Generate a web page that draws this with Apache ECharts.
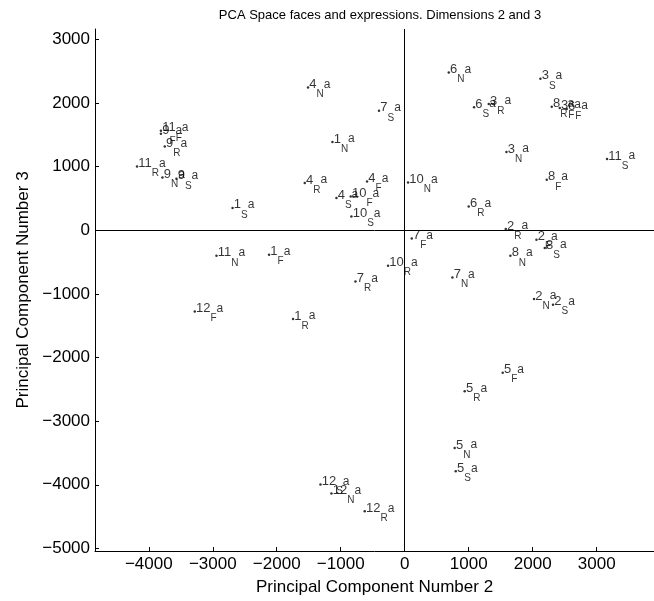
<!DOCTYPE html>
<html>
<head>
<meta charset="utf-8">
<script src="https://cdn.jsdelivr.net/npm/echarts@6/dist/echarts.min.js"></script>
<style>
  html, body { margin: 0; padding: 0; background: #fff; }
  #main { width: 654px; height: 601px; }
</style>
</head>
<body>
<div id="main"></div>
<script>
// subject number, expression subscript, PC2, PC3
var subjects = [1, 1, 1, 1, 2, 2, 2, 2, 3, 3, 3, 3, 4, 4, 4, 4, 5, 5, 5, 5, 6, 6, 6, 6,
    7, 7, 7, 7, 8, 8, 8, 8, 9, 9, 9, 9, 10, 10, 10, 10, 11, 11, 11, 11, 12, 12, 12, 12];
var expressions = ['N', 'S', 'F', 'R', 'N', 'S', 'F', 'R', 'N', 'S', 'F', 'R', 'N', 'S', 'F', 'R',
    'N', 'S', 'F', 'R', 'N', 'S', 'F', 'R', 'N', 'S', 'F', 'R', 'N', 'S', 'F', 'R',
    'N', 'S', 'F', 'R', 'N', 'S', 'F', 'R', 'N', 'S', 'F', 'R', 'N', 'S', 'F', 'R'];
var pc2 = [-1130, -2690, -2120, -1745, 2020, 2317, 2058, 1578, 1589, 2120, 2422, 1313,
    -1511, -1067, -589, -1562, 781, 797, 1531, 937, 688, 1083, 2531, 1000,
    745, -402, 110, -770, 1651, 2188, 2219, 2297, -3786, -3567, -3810, -3750,
    52, -833, -844, -261, -2942, 3162, -3810, -4183, -1145, -1317, -3281, -625];
var pc3 = [1383, 350, -386, -1396, -1082, -1171, -150, 17, 1226, 2377, 1920, 1980,
    2240, 504, 765, 739, -3421, -3788, -2239, -2532, 2476, 1932, 1904, 370,
    -742, 1874, -130, -805, -402, -281, 791, 1938, 827, 807, 1513, 1314,
    749, 215, 529, -559, -402, 1116, 1560, 1000, -4138, -3997, -1276, -4416];

var xTicks = [-4000, -3000, -2000, -1000, 0, 1000, 2000, 3000];
var yTicks = [-5000, -4000, -3000, -2000, -1000, 0, 1000, 2000, 3000];

var myChart = echarts.init(document.getElementById('main'));

var points = [];
for (var i = 0; i < pc2.length; i++) {
    points.push([pc2[i], pc3[i], subjects[i], expressions[i]]);
}

var font = '"Liberation Sans", Arial, Helvetica, sans-serif';

function tickText(v) {
    return v < 0 ? '\u2212' + Math.abs(v) : String(v);
}

var option = {
    backgroundColor: '#fff',
    animation: false,
    title: {
        text: 'PCA Space faces and expressions. Dimensions 2 and 3',
        left: 375,
        textAlign: 'center',
        top: 4,
        textStyle: { fontFamily: font, fontSize: 13, fontWeight: 'normal', color: '#000' }
    },
    grid: {
        left: 95,
        right: 0,
        top: 29,
        bottom: 50
    },
    xAxis: {
        type: 'value',
        min: -4840,
        max: 3895,
        name: 'Principal Component Number 2',
        nameLocation: 'middle',
        nameGap: 28,
        nameTextStyle: { fontFamily: font, fontSize: 17, color: '#000' },
        axisLine: { onZero: false, lineStyle: { color: '#000', width: 1 } },
        axisTick: { inside: true, length: 4, customValues: xTicks, lineStyle: { color: '#000' } },
        axisLabel: { customValues: xTicks, margin: 5, fontFamily: font, fontSize: 17, color: '#000',
            formatter: tickText },
        splitLine: { show: false }
    },
    yAxis: {
        type: 'value',
        min: -5040,
        max: 3160,
        name: 'Principal Component Number 3',
        nameLocation: 'middle',
        nameGap: 62,
        nameRotate: 90,
        nameTextStyle: { fontFamily: font, fontSize: 17, color: '#000' },
        axisLine: { onZero: false, lineStyle: { color: '#000', width: 1 } },
        axisTick: { inside: true, length: 4, customValues: yTicks, lineStyle: { color: '#000' } },
        axisLabel: { customValues: yTicks, margin: 5, fontFamily: font, fontSize: 17, color: '#000',
            formatter: tickText },
        splitLine: { show: false }
    },
    series: [{
        type: 'scatter',
        data: points,
        symbol: 'circle',
        symbolSize: 2.5,
        itemStyle: { color: '#000' },
        label: {
            show: true,
            position: 'right',
            distance: 0,
            offset: [0, -3],
            formatter: function (p) {
                return '{n|' + p.data[2] + '}{s|' + p.data[3] + '}{a|a}';
            },
            rich: {
                n: { fontFamily: font, fontSize: 13, color: '#000', lineHeight: 30, verticalAlign: 'middle' },
                s: { fontFamily: font, fontSize: 10, color: '#000', lineHeight: 13, verticalAlign: 'bottom' },
                a: { fontFamily: font, fontSize: 12, color: '#000', lineHeight: 30, verticalAlign: 'middle' }
            }
        },
        markLine: {
            silent: true,
            symbol: ['none', 'none'],
            label: { show: false },
            lineStyle: { color: '#000', type: 'solid', width: 1 },
            data: [{ xAxis: 0 }, { yAxis: 0 }]
        }
    }]
};

myChart.setOption(option);
</script>
</body>
</html>
